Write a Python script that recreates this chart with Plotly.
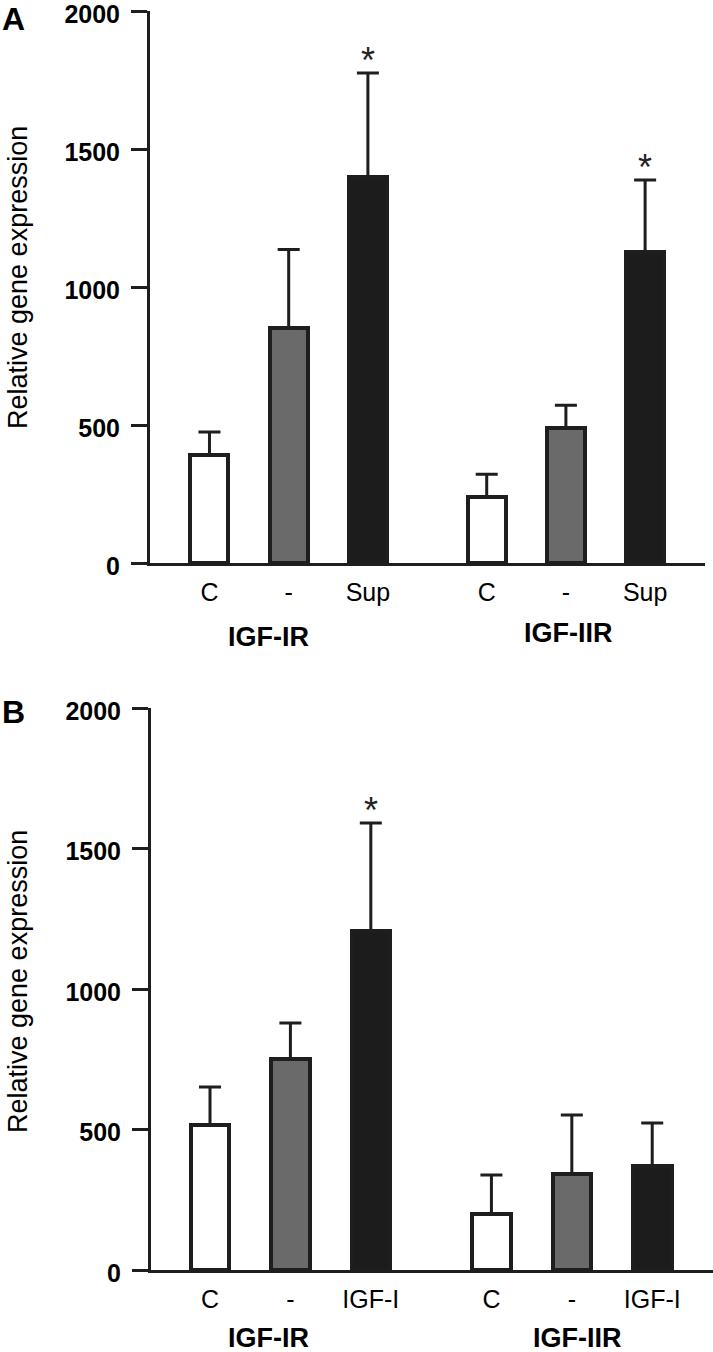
import plotly.graph_objects as go

# ---- data ----
groups = ["IGF-IR", "IGF-IIR"]
treat_A = ["C", "-", "Sup"]
treat_B = ["C", "-", "IGF-I"]

A_IGF_IR = [391, 851, 1397]
A_IGF_IR_err = [84, 285, 378]
A_IGF_IIR = [239, 489, 1127]
A_IGF_IIR_err = [83, 83, 261]

B_IGF_IR = [516, 751, 1206]
B_IGF_IR_err = [135, 128, 385]
B_IGF_IIR = [199, 342, 370]
B_IGF_IIR_err = [139, 210, 153]

sig_A = [False, False, True, False, False, True]
sig_B = [False, False, True, False, False, False]

y_ticks = [0, 500, 1000, 1500, 2000]

# ---- styling ----
W, H = 713, 1352
fills = ["#ffffff", "#6a6a6a", "#1c1c1c"]
edge = "#1e1e1e"
font_fam = "Liberation Sans, Arial, sans-serif"

# bar positions: 3 bars per group, gap between groups
pos = [0, 1, 2, 3.5, 4.5, 5.5]

fig = go.Figure()


def add_panel(xa, ya, v1, e1, v2, e2, sig):
    vals = v1 + v2
    errs = e1 + e2
    cols = fills + fills
    fig.add_trace(go.Bar(
        x=pos, y=vals, width=0.48,
        marker=dict(color=cols, line=dict(color=edge, width=4)),
        error_y=dict(type="data", array=errs, arrayminus=[0] * 6,
                     symmetric=False, color=edge, thickness=3, width=11),
        xaxis=xa, yaxis=ya, showlegend=False, hoverinfo="skip",
    ))
    for p, v, e, s in zip(pos, vals, errs, sig):
        if s:
            fig.add_annotation(x=p, y=v + e, xref=xa, yref=ya, text="*",
                               showarrow=False, xanchor="center", yanchor="bottom",
                               yshift=-10,
                               font=dict(size=36, color="#222", family=font_fam))


add_panel("x", "y", A_IGF_IR, A_IGF_IR_err, A_IGF_IIR, A_IGF_IIR_err, sig_A)
add_panel("x2", "y2", B_IGF_IR, B_IGF_IR_err, B_IGF_IIR, B_IGF_IIR_err, sig_B)


def py(pix):
    return 1 - pix / H


def px(pix):
    return pix / W


axis_common_y = dict(
    range=[0, 2000], tickvals=y_ticks, ticks="outside", ticklen=16, tickwidth=3,
    tickcolor=edge, showline=True, linecolor=edge, linewidth=3, showgrid=False,
    zeroline=False, tickfont=dict(size=25, color="#000", family=font_fam, weight="bold"),
    ticklabelstandoff=6, ticklabelshift=3, fixedrange=True, automargin=False,
    ticklabeloverflow="allow",
)
axis_common_x = dict(
    tickvals=pos, ticks="", showline=True, linecolor=edge, linewidth=3,
    showgrid=False, zeroline=False, automargin=False, ticklabeloverflow="allow",
    tickfont=dict(size=25, color="#000", family=font_fam), fixedrange=True,
)

fig.update_layout(
    width=W, height=H, margin=dict(l=0, r=0, t=0, b=0, autoexpand=False),
    paper_bgcolor="white", plot_bgcolor="white", bargap=0,
    xaxis=dict(domain=[px(150), px(705)], range=[-0.751, 6.256], anchor="y",
               ticktext=treat_A + treat_A, ticklabelstandoff=5, **axis_common_x),
    yaxis=dict(domain=[py(563), py(11)], anchor="x", **axis_common_y),
    xaxis2=dict(domain=[px(151), 1.0], range=[-0.734, 6.256], anchor="y2",
                ticktext=treat_B + treat_B, ticklabelstandoff=5, **axis_common_x),
    yaxis2=dict(domain=[py(1270), py(708)], anchor="x2", **axis_common_y),
)

# group labels
gfont = dict(size=27, color="#000", family=font_fam, weight="bold")
for xr, xv, yc, txt in [("x", 0.75, 637, groups[0]), ("x", 4.53, 633, groups[1]),
                        ("x2", 0.73, 1338, groups[0]), ("x2", 4.57, 1338, groups[1])]:
    fig.add_annotation(x=xv, y=py(yc), xref=xr, yref="paper", text=txt,
                       xanchor="center", yanchor="middle", showarrow=False, font=gfont)

# y-axis titles
for yc in (278, 982):
    fig.add_annotation(x=px(18), y=py(yc), xref="paper", yref="paper",
                       text="Relative gene expression", textangle=-90, showarrow=False,
                       xanchor="center", yanchor="middle",
                       font=dict(size=27, color="#000", family=font_fam))

# panel letters
lfont = dict(size=32, color="#000", family=font_fam, weight="bold")
fig.add_annotation(x=px(0), y=py(19), xref="paper", yref="paper", text="A",
                   xanchor="left", yanchor="middle", showarrow=False, font=lfont)
fig.add_annotation(x=px(0), y=py(712), xref="paper", yref="paper", text="B",
                   xanchor="left", yanchor="middle", showarrow=False, font=lfont)

fig.write_html("out.html", config={"displayModeBar": False},
               post_script="document.body.style.margin='0';")
